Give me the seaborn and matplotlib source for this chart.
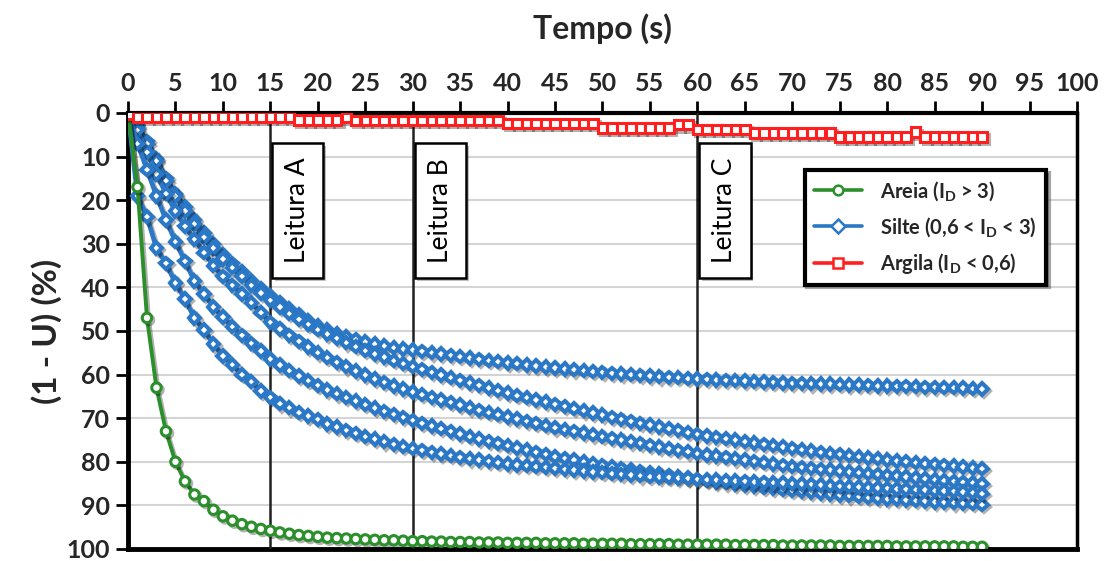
import numpy as np
import pandas as pd
import matplotlib
matplotlib.use("Agg")
import matplotlib.pyplot as plt
import matplotlib.patheffects as pe
from matplotlib.lines import Line2D
from matplotlib.patches import Rectangle
import seaborn as sns

# time axis (s): one reading per second
tempo = list(range(0, 91))

# Areia (sand): pore pressure dissipation (1 - U) in %
areia = [0, 17, 47, 63, 73, 80, 84.5, 87.5, 89, 91, 92.5,
         93.5, 94.3, 94.9, 95.4, 95.8, 96.2, 96.5, 96.8, 97, 97.2,
         97.4, 97.5, 97.6, 97.7, 97.8, 97.9, 98, 98, 98.1, 98.2,
         98.2, 98.3, 98.3, 98.4, 98.4, 98.4, 98.5, 98.5, 98.5, 98.6,
         98.6, 98.6, 98.6, 98.7, 98.7, 98.7, 98.7, 98.8, 98.8, 98.8,
         98.8, 98.8, 98.9, 98.9, 98.9, 98.9, 98.9, 99, 99, 99,
         99, 99, 99, 99.1, 99.1, 99.1, 99.1, 99.1, 99.2, 99.2,
         99.2, 99.2, 99.2, 99.2, 99.3, 99.3, 99.3, 99.3, 99.3, 99.3,
         99.4, 99.4, 99.4, 99.4, 99.4, 99.4, 99.4, 99.5, 99.5, 99.5]

# Silte (silt): five soundings
silte_1 = [0, 3, 6.5, 10.5, 15, 18.5, 21.5, 24.5, 27.5, 30, 32.5,
           34.5, 36.5, 38.5, 40.3, 42, 43.6, 45, 46.3, 47.6, 48.8,
           49.8, 50.6, 51.3, 51.9, 52.5, 53, 53.4, 53.8, 54.1, 54.4,
           54.7, 55, 55.3, 55.6, 55.9, 56.2, 56.5, 56.8, 57, 57.3,
           57.5, 57.8, 58, 58.3, 58.5, 58.7, 58.9, 59.1, 59.3, 59.5,
           59.7, 59.9, 60, 60.2, 60.3, 60.5, 60.6, 60.7, 60.9, 61,
           61.1, 61.2, 61.3, 61.4, 61.5, 61.6, 61.7, 61.8, 61.9, 62,
           62, 62.1, 62.2, 62.2, 62.3, 62.4, 62.4, 62.5, 62.6, 62.6,
           62.7, 62.7, 62.8, 62.9, 62.9, 63, 63, 63.1, 63.2, 63.3]

silte_2 = [0, 3.5, 7, 11, 15.5, 19, 22.5, 25.5, 28.5, 31, 33.5,
           35.5, 37.5, 39.5, 41.3, 43, 44.5, 46, 47.3, 48.5, 49.7,
           50.7, 51.7, 52.7, 53.6, 54.5, 55.3, 56, 56.8, 57.5, 58.2,
           58.8, 59.5, 60.1, 60.7, 61.3, 61.9, 62.5, 63.1, 63.7, 64.2,
           64.8, 65.3, 65.8, 66.3, 66.8, 67.3, 67.8, 68.3, 68.8, 69.3,
           69.8, 70.3, 70.7, 71.2, 71.6, 72, 72.4, 72.8, 73.3, 73.7,
           74.1, 74.4, 74.7, 75, 75.4, 75.7, 76, 76.3, 76.6, 76.9,
           77.2, 77.5, 77.8, 78.1, 78.3, 78.6, 78.8, 79.1, 79.3, 79.6,
           79.8, 80, 80.2, 80.4, 80.6, 80.8, 81, 81.2, 81.4, 81.6]

silte_3 = [0, 4, 9, 14, 18.5, 22.5, 26, 29, 32, 35, 37.5,
           39.5, 41.5, 43.5, 45.8, 48, 49.5, 51, 52.4, 53.7, 55,
           56.1, 57.2, 58.2, 59.2, 60.1, 61, 61.8, 62.6, 63.3, 64,
           64.6, 65.2, 65.8, 66.4, 67, 67.6, 68.2, 68.7, 69.2, 69.7,
           70.2, 70.7, 71.2, 71.7, 72.2, 72.6, 73, 73.4, 73.8, 74.2,
           74.6, 75, 75.4, 75.8, 76.2, 76.6, 77, 77.4, 77.7, 78.1,
           78.4, 78.7, 79, 79.3, 79.6, 79.9, 80.2, 80.5, 80.8, 81.1,
           81.3, 81.5, 81.7, 81.9, 82.1, 82.3, 82.5, 82.7, 82.9, 83.1,
           83.3, 83.5, 83.7, 83.9, 84.1, 84.3, 84.5, 84.7, 84.8, 85]

silte_4 = [0, 7, 13, 19, 24.5, 29.5, 34, 38.5, 41.5, 44.5, 46.8,
           49, 51, 52.8, 54.6, 56.4, 57.8, 59.1, 60.3, 61.4, 62.5,
           63.5, 64.4, 65.3, 66.1, 66.9, 67.7, 68.4, 69.1, 69.8, 70.5,
           71.2, 71.8, 72.4, 73, 73.6, 74.2, 74.8, 75.3, 75.8, 76.3,
           76.8, 77.3, 77.8, 78.3, 78.8, 79.2, 79.6, 80, 80.4, 80.8,
           81.2, 81.5, 81.9, 82.2, 82.5, 82.8, 83.1, 83.4, 83.7, 84,
           84.3, 84.6, 84.8, 85.1, 85.4, 85.6, 85.9, 86.1, 86.4, 86.6,
           86.8, 87, 87.2, 87.4, 87.6, 87.8, 88, 88.2, 88.3, 88.5,
           88.6, 88.8, 88.9, 89, 89.2, 89.3, 89.4, 89.5, 89.6, 89.8]

silte_5 = [0, 19, 23.8, 31, 34.5, 39, 42.7, 47, 49.8, 53, 55.7,
           57.7, 60, 61.6, 63.8, 65.2, 66.7, 67.6, 68.7, 69.5, 70.3,
           71.3, 72, 72.8, 73.5, 74.2, 74.8, 75.4, 76, 76.5, 77,
           77.4, 77.8, 78.2, 78.6, 79, 79.3, 79.6, 79.9, 80.2, 80.5,
           80.7, 80.9, 81.1, 81.3, 81.5, 81.7, 81.9, 82.1, 82.3, 82.5,
           82.7, 82.9, 83, 83.2, 83.4, 83.5, 83.6, 83.7, 83.8, 84,
           84.1, 84.2, 84.3, 84.4, 84.5, 84.6, 84.7, 84.8, 84.9, 85,
           85.1, 85.2, 85.3, 85.5, 85.6, 85.7, 85.8, 85.9, 86, 86.1,
           86.2, 86.3, 86.4, 86.5, 86.6, 86.7, 86.8, 86.9, 87.1, 87.3]

# Argila (clay): barely dissipates
argila = [0.3, 0.9, 0.9, 0.9, 0.9, 0.9, 0.9, 0.9, 0.9, 0.9, 0.9,
          0.9, 0.9, 0.9, 0.9, 0.9, 0.9, 0.9, 1.6, 1.6, 1.6,
          1.6, 1.6, 1.0, 1.7, 1.7, 1.7, 1.7, 1.7, 1.7, 1.7,
          1.7, 1.7, 1.7, 1.7, 1.7, 1.7, 1.7, 1.7, 1.7, 2.4,
          2.4, 2.4, 2.4, 2.4, 2.4, 2.4, 2.4, 2.4, 2.4, 3.4,
          3.4, 3.4, 3.4, 3.4, 3.4, 3.4, 3.4, 2.7, 2.7, 3.8,
          3.8, 3.8, 3.8, 3.8, 3.8, 4.6, 4.6, 4.6, 4.6, 4.6,
          4.6, 4.6, 4.6, 4.6, 5.5, 5.5, 5.5, 5.5, 5.5, 5.5,
          5.5, 5.5, 4.4, 5.5, 5.5, 5.5, 5.5, 5.5, 5.5, 5.5]

leituras = [15, 30, 60]
leitura_nomes = ["Leitura A", "Leitura B", "Leitura C"]

x_ticks = list(range(0, 101, 5))
y_ticks = list(range(0, 101, 10))

verde = "#2b8f2b"
azul = "#2a78c6"
vermelho = "#ff1f1f"

sns.set_theme(style="white")
plt.rcParams["font.family"] = ["Lato", "DejaVu Sans"]
plt.rcParams["mathtext.fontset"] = "custom"
plt.rcParams["mathtext.rm"] = "Lato"

fig = plt.figure(figsize=(11.11, 5.61), dpi=100)
ax = fig.add_axes([0.1152, 0.0214, 0.8542, 0.7772])

shadow = [pe.SimpleLineShadow(offset=(1.5, -1.5), shadow_color="black", alpha=0.3),
          pe.Normal()]

silte_series = [silte_1, silte_2, silte_3, silte_4, silte_5]
for s in silte_series:
    sns.lineplot(x=tempo, y=s, ax=ax, color=azul, lw=3.4, marker="D",
                 markersize=5.8, markerfacecolor="white", markeredgecolor=azul,
                 markeredgewidth=2.9, sort=False, legend=False,
                 path_effects=shadow, zorder=4)

sns.lineplot(x=tempo, y=areia, ax=ax, color=verde, lw=2.8, marker="o",
             markersize=6.8, markerfacecolor="white", markeredgecolor=verde,
             markeredgewidth=2.2, sort=False, legend=False,
             path_effects=shadow, zorder=5)

sns.lineplot(x=tempo, y=argila, ax=ax, color=vermelho, lw=2.8, marker="s",
             markersize=6.8, markerfacecolor="white", markeredgecolor=vermelho,
             markeredgewidth=2.2, sort=False, legend=False,
             path_effects=shadow, zorder=5)

# reading instants
for t, nome in zip(leituras, leitura_nomes):
    ax.axvline(t, color="#202020", lw=1.8, zorder=3)
    ax.add_patch(Rectangle((t + 0.2, 6.9), 5.4, 31.0, facecolor="white",
                           edgecolor="black", lw=1.8, zorder=6,
                           path_effects=[pe.SimplePatchShadow(offset=(2, -2), alpha=0.35),
                                         pe.Normal()]))
    ax.text(t + 2.9, 22.4, nome, rotation=90, ha="center", va="center",
            fontsize=19, color="black", zorder=7)

ax.set_xlim(0, 100)
ax.set_ylim(100, 0)
ax.xaxis.tick_top()
ax.xaxis.set_label_position("top")
ax.set_xticks(x_ticks)
ax.set_yticks(y_ticks)
ax.set_xlabel("Tempo (s)", fontsize=23, fontweight="bold", labelpad=24)
ax.set_ylabel("(1 - U) (%)", fontsize=24, fontweight="bold", labelpad=3)
for lab in ax.get_xticklabels() + ax.get_yticklabels():
    lab.set_fontweight("bold")
ax.tick_params(axis="both", which="major", labelsize=18, direction="out",
               length=9, width=2, color="black", pad=4)
ax.tick_params(axis="x", top=True, bottom=False)
ax.tick_params(axis="y", left=True, right=False)

ax.yaxis.grid(True, color="#d4d4d4", lw=1.5)
ax.xaxis.grid(False)
ax.set_axisbelow(True)

for side, w in [("left", 3.5), ("top", 3.0), ("right", 2.5), ("bottom", 3.5)]:
    ax.spines[side].set_visible(True)
    ax.spines[side].set_color("black")
    ax.spines[side].set_linewidth(w)

handles = [
    Line2D([], [], color=verde, lw=2.6, marker="o", markersize=7,
           markerfacecolor="white", markeredgecolor=verde, markeredgewidth=1.8),
    Line2D([], [], color=azul, lw=2.6, marker="D", markersize=7,
           markerfacecolor="white", markeredgecolor=azul, markeredgewidth=1.8),
    Line2D([], [], color=vermelho, lw=2.6, marker="s", markersize=7,
           markerfacecolor="white", markeredgecolor=vermelho, markeredgewidth=1.8),
]
labels = [r"Areia (I$_\mathregular{D}$ > 3)",
          r"Silte (0,6 < I$_\mathregular{D}$ < 3)",
          r"Argila (I$_\mathregular{D}$ < 0,6)"]
leg = ax.legend(handles, labels, loc="upper left", bbox_to_anchor=(0.713, 0.869),
                borderaxespad=0, frameon=True, fancybox=False, shadow=True,
                framealpha=1, edgecolor="black", handlelength=2.4,
                handletextpad=0.9, borderpad=0.45, labelspacing=0.6,
                prop={"weight": "bold", "size": 14.5})
leg.get_frame().set_linewidth(3)
leg.set_zorder(8)

fig.savefig("out.png", dpi=100)
